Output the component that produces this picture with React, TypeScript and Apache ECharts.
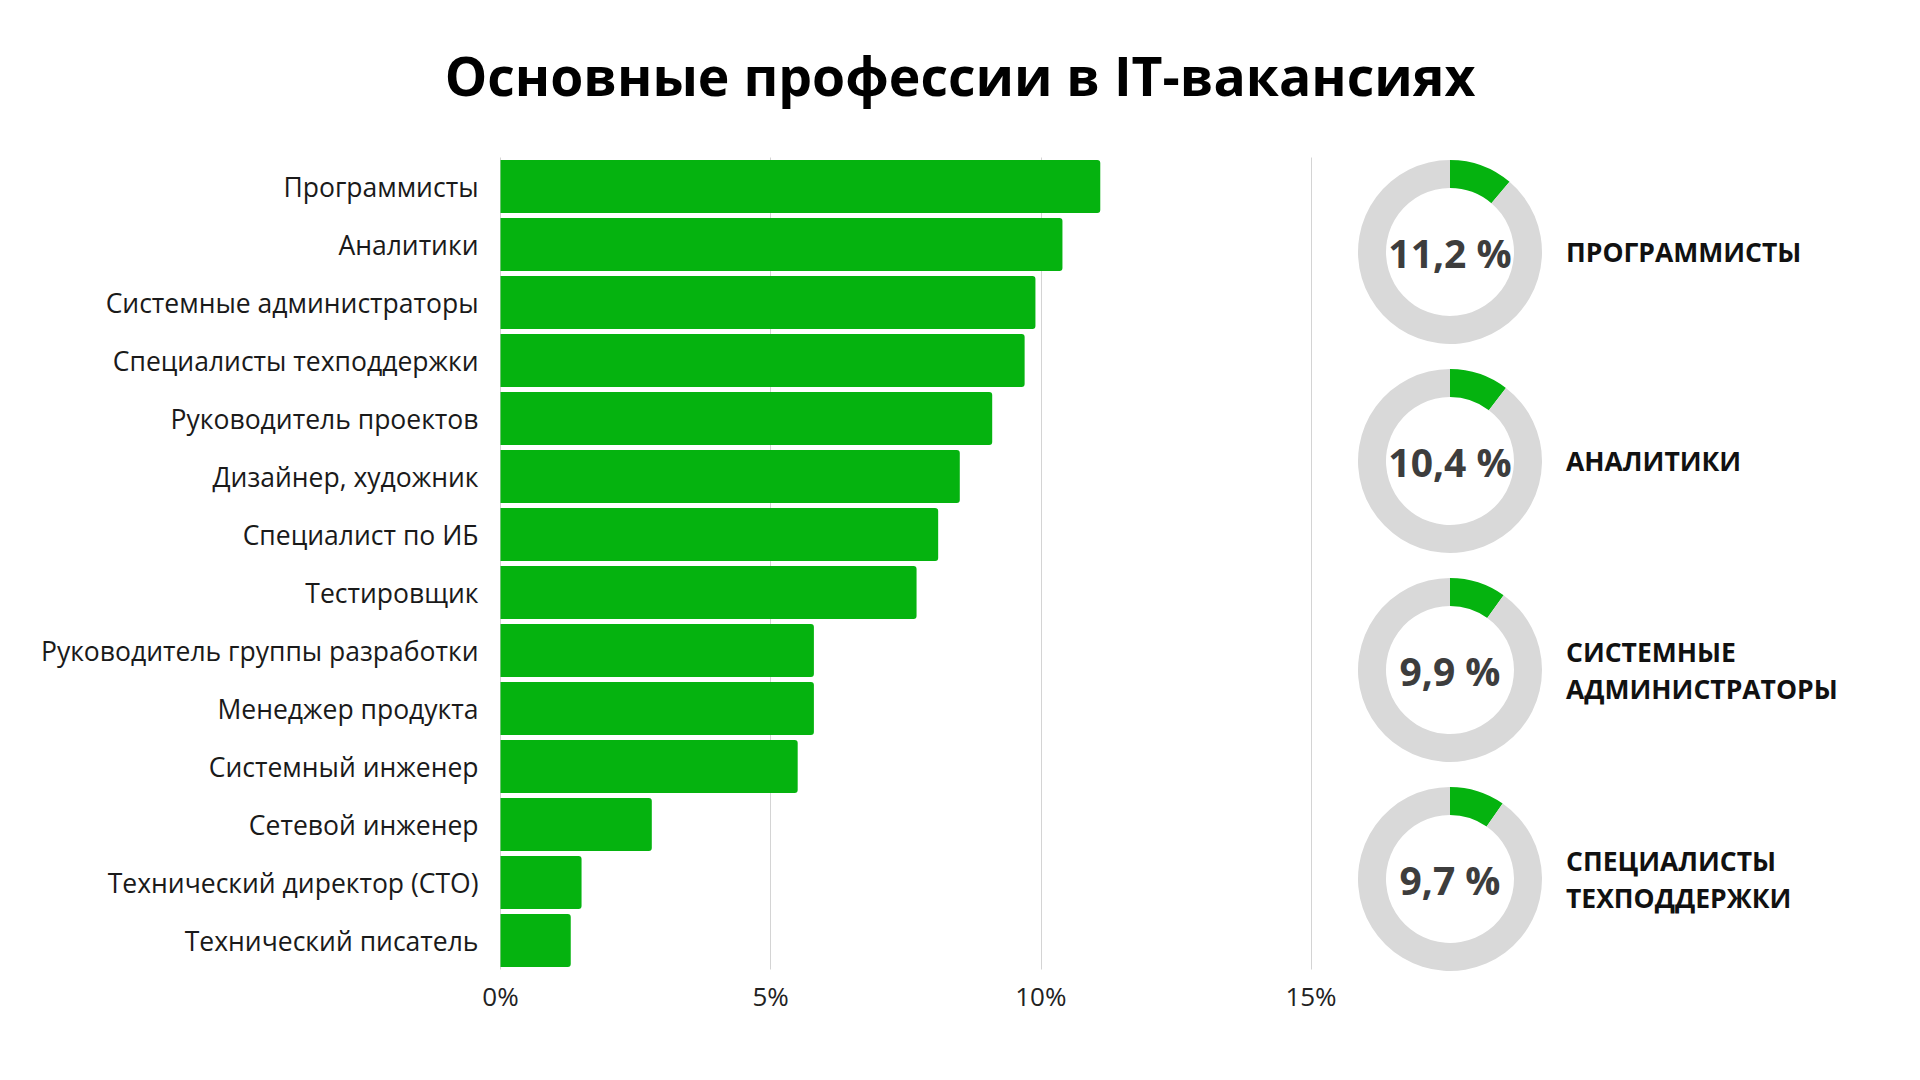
import React, { useEffect, useRef } from "react";
import * as echarts from "echarts";

const categories = [
  "Программисты",
  "Аналитики",
  "Системные администраторы",
  "Специалисты техподдержки",
  "Руководитель проектов",
  "Дизайнер, художник",
  "Специалист по ИБ",
  "Тестировщик",
  "Руководитель группы разработки",
  "Менеджер продукта",
  "Системный инженер",
  "Сетевой инженер",
  "Технический директор (CTO)",
  "Технический писатель",
];
const values = [11.1, 10.4, 9.9, 9.7, 9.1, 8.5, 8.1, 7.7, 5.8, 5.8, 5.5, 2.8, 1.5, 1.3];

const donutValues = [11.2, 10.4, 9.9, 9.7];
const donutLabels = [
  "ПРОГРАММИСТЫ",
  "АНАЛИТИКИ",
  "СИСТЕМНЫЕ\nАДМИНИСТРАТОРЫ",
  "СПЕЦИАЛИСТЫ\nТЕХПОДДЕРЖКИ",
];
const titleText = "Основные профессии в IT-вакансиях";

const GREEN = "#05b30f";
const GRAY = "#d9d9d9";
const FONT = "'Open Sans', 'Noto Sans', sans-serif";

export default function App() {
  const ref = useRef<HTMLDivElement>(null);
  useEffect(() => {
    if (!ref.current) return;
    const chart = echarts.init(ref.current, null, { renderer: "svg" });
    const centersY = [252, 461, 670, 879];
    const cx = 1450;
    const pies = donutValues.map((v, i) => ({
      type: "pie",
      center: [cx, centersY[i]],
      radius: [64, 92],
      startAngle: 90,
      clockwise: true,
      silent: true,
      labelLine: { show: false },
      emphasis: { disabled: true },
      data: [
        {
          value: v,
          itemStyle: { color: GREEN },
          label: {
            show: true,
            position: "center",
            formatter: () => v.toFixed(1).replace(".", ",") + " %",
            fontFamily: FONT,
            fontWeight: "bold",
            fontSize: 39,
            color: "#3d3d3d",
          },
        },
        { value: 100 - v, itemStyle: { color: GRAY }, label: { show: false } },
      ],
    }));
    const texts = donutLabels.map((t, i) => ({
      type: "text",
      left: 1566,
      top: centersY[i] - (t.split("\n").length * 37) / 2,
      style: {
        text: t,
        fontFamily: FONT,
        fontWeight: "bold",
        fontSize: 26.5,
        lineHeight: 37,
        fill: "#111111",
      },
    }));
    chart.setOption({
      animation: false,
      backgroundColor: "#ffffff",
      title: {
        text: titleText,
        left: "center",
        top: 43,
        textStyle: {
          fontFamily: FONT,
          fontWeight: "bold",
          fontSize: 53.5,
          color: "#000000",
        },
      },
      grid: { left: 500.5, right: 609, top: 157.5, bottom: 110.5, containLabel: false },
      xAxis: {
        type: "value",
        min: 0,
        max: 15,
        interval: 5,
        axisLine: { show: false },
        axisTick: { show: false },
        splitLine: { show: true, lineStyle: { color: "#d4d4d4", width: 1 } },
        axisLabel: {
          formatter: "{value}%",
          fontFamily: FONT,
          fontSize: 26,
          color: "#222222",
          margin: 13,
        },
      },
      yAxis: {
        type: "category",
        data: categories,
        inverse: true,
        axisLine: { show: false },
        axisTick: { show: false },
        axisLabel: {
          fontFamily: FONT,
          fontSize: 26.5,
          color: "#1a1a1a",
          margin: 22,
        },
      },
      series: [
        {
          type: "bar",
          data: values,
          barCategoryGap: "9%",
          silent: true,
          itemStyle: { color: GREEN, borderRadius: [0, 3, 3, 0] },
        },
        ...pies,
      ],
      graphic: texts,
    });
    return () => chart.dispose();
  }, []);
  return (
    <div
      ref={ref}
      style={{ position: "absolute", left: 0, top: 0, width: 1920, height: 1080 }}
    />
  );
}
